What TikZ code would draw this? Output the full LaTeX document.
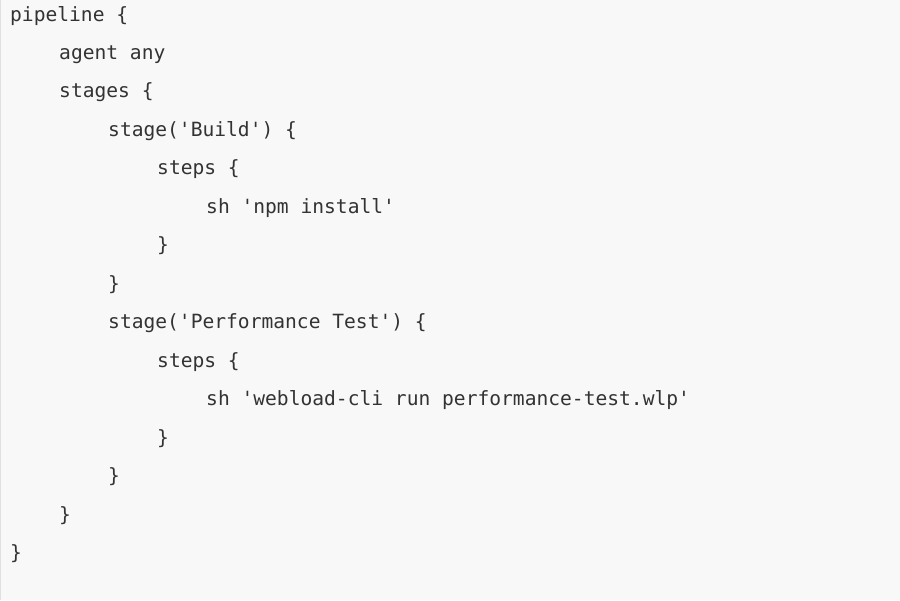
\documentclass[tikz,border=0pt]{standalone}
\usepackage{fontspec}
\setmonofont{DejaVu Sans Mono}
\definecolor{codebg}{RGB}{248,248,248}
\definecolor{codefg}{RGB}{51,51,51}
\tikzset{codeline/.style={anchor=base west,inner sep=0pt,font=\ttfamily\fontsize{19.6}{20}\selectfont,text=codefg}}
\begin{document}
\begin{tikzpicture}[x=1pt,y=-1pt]
%background panel
\fill[codebg] (0,0) rectangle (900,600);
\draw[black!12] (0.5,0) -- (0.5,600);
\useasboundingbox (0,0) rectangle (900,600);
%code lines
\node[codeline] (l1)  at (10,21)  {pipeline \{};
\node[codeline] (l2)  at (59,59)  {agent any};
\node[codeline] (l3)  at (59,97)  {stages \{};
\node[codeline] (l4)  at (108,136) {stage('Build') \{};
\node[codeline] (l5)  at (157,174) {steps \{};
\node[codeline] (l6)  at (206,213) {sh 'npm install'};
\node[codeline] (l7)  at (157,251) {\}};
\node[codeline] (l8)  at (108,290) {\}};
\node[codeline] (l9)  at (108,328) {stage('Performance Test') \{};
\node[codeline] (l10) at (157,367) {steps \{};
\node[codeline] (l11) at (206,405) {sh 'webload-cli run performance-test.wlp'};
\node[codeline] (l12) at (157,444) {\}};
\node[codeline] (l13) at (108,482) {\}};
\node[codeline] (l14) at (59,521) {\}};
\node[codeline] (l15) at (10,559) {\}};
\end{tikzpicture}
\end{document}
